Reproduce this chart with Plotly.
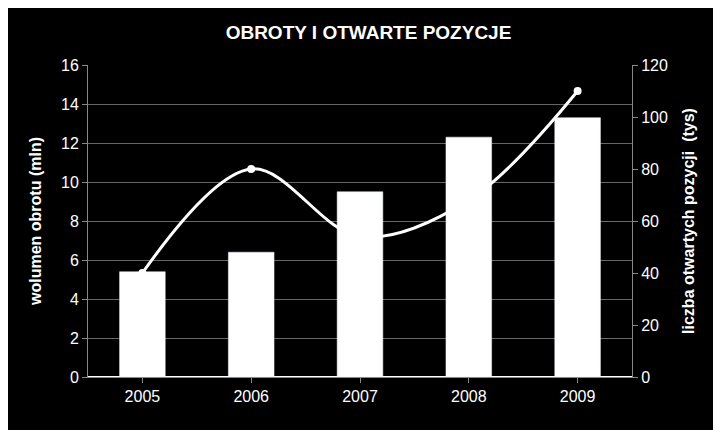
import plotly.graph_objects as go

years = ["2005", "2006", "2007", "2008", "2009"]
volume = [5.4, 6.4, 9.5, 12.3, 13.3]
open_pos = [40, 80, 54, 68, 110]

fig = go.Figure()
fig.add_trace(go.Bar(x=years, y=volume, marker_color="white", width=0.42))
fig.add_trace(go.Scatter(x=years, y=open_pos, yaxis="y2", mode="lines+markers",
                         line=dict(color="white", width=3, shape="spline"),
                         marker=dict(color="white", size=8)))

fig.update_layout(
    width=721, height=430, paper_bgcolor="black", plot_bgcolor="black",
    showlegend=False, margin=dict(l=80, r=97, t=57, b=61),
    font=dict(family="Liberation Sans, Arial", color="white", size=16),
    title=dict(text="<b>OBROTY I OTWARTE POZYCJE</b>", x=0.5, y=0.96, font=dict(size=19)),
    xaxis=dict(showline=True, linecolor="#888", ticks="outside", tickcolor="#888"),
    yaxis=dict(range=[0, 16], dtick=2, gridcolor="#666", showline=True, linecolor="#888",
               ticks="outside", tickcolor="#888",
               title=dict(text="<b>wolumen obrotu (mln)</b>", font=dict(size=16))),
    yaxis2=dict(range=[0, 120], dtick=20, overlaying="y", side="right", showgrid=False,
                showline=True, linecolor="#888", ticks="outside", tickcolor="#888",
                title=dict(text="<b>liczba otwartych pozycji  (tys)</b>", font=dict(size=16))),
)

fig.write_html("out.html")
